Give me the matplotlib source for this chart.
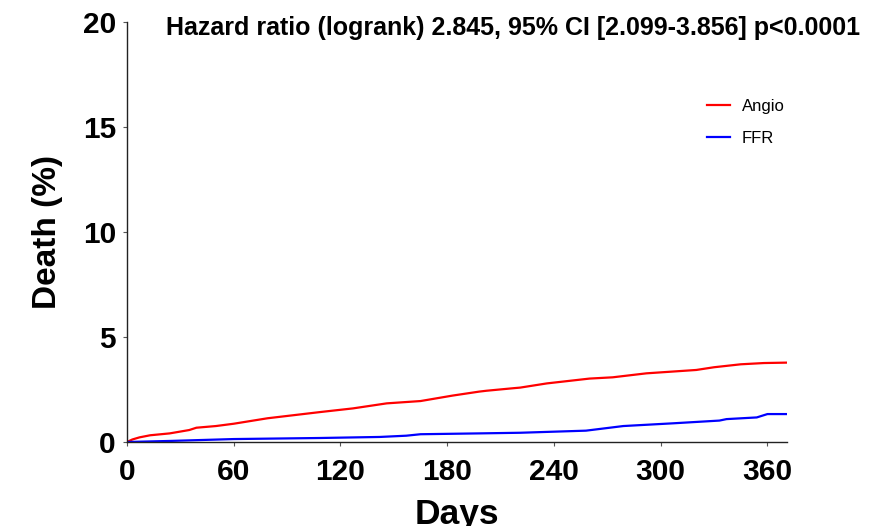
import matplotlib
matplotlib.use("Agg")
import matplotlib.pyplot as plt

angio_days = [0, 3, 7, 13, 24, 35, 39, 50, 60, 79, 90, 109, 127, 146, 165, 183, 198, 202, 217, 221, 236, 260, 273, 292, 320, 330, 345, 358, 371]
angio_vals = [0, 0.12, 0.22, 0.32, 0.41, 0.57, 0.68, 0.76, 0.87, 1.13, 1.24, 1.43, 1.60, 1.84, 1.95, 2.21, 2.40, 2.44, 2.56, 2.59, 2.79, 3.02, 3.08, 3.27, 3.43, 3.56, 3.70, 3.76, 3.78]
ffr_days = [0, 24, 60, 108, 142, 157, 165, 198, 221, 258, 279, 307, 333, 337, 354, 360, 371]
ffr_vals = [0, 0.05, 0.14, 0.19, 0.24, 0.30, 0.37, 0.41, 0.44, 0.54, 0.76, 0.89, 1.02, 1.09, 1.17, 1.33, 1.33]

x_ticks = [0, 60, 120, 180, 240, 300, 360]
y_ticks = [0, 5, 10, 15, 20]

F = "Liberation Sans"
fig = plt.figure(figsize=(8.79, 5.26), dpi=100)
ax = fig.add_axes([127/879, 1 - 442/526, (787 - 127)/879, (442 - 22)/526])
ax.plot(angio_days, angio_vals, color="#ff0000", lw=1.6, label="Angio")
ax.plot(ffr_days, ffr_vals, color="#0000ff", lw=1.6, label="FFR")
ax.set_xlim(0, 371)
ax.set_ylim(0, 20)
ax.set_xticks(x_ticks)
ax.set_yticks(y_ticks)
for s in ["top", "right"]:
    ax.spines[s].set_visible(False)
for s in ["left", "bottom"]:
    ax.spines[s].set_linewidth(1.0)
    ax.spines[s].set_color("#222222")
ax.tick_params(axis="both", direction="out", length=3, width=0.8, color="#555555")
ax.tick_params(axis="x", pad=8.5)
ax.tick_params(axis="y", pad=5)
for lab in ax.get_xticklabels() + ax.get_yticklabels():
    lab.set_fontfamily(F)
    lab.set_fontweight("bold")
    lab.set_fontsize(21.5)
ax.set_xlabel("Days", fontsize=25.5, fontweight="bold", fontfamily=F, labelpad=9)
ax.set_ylabel("Death (%)", fontsize=24, fontweight="bold", fontfamily=F, labelpad=14)
fig.text(513.5/879, 1 - 28/526, "Hazard ratio (logrank) 2.845, 95% CI [2.099-3.856] p<0.0001",
         ha="center", va="center", fontsize=18, fontweight="bold", fontfamily=F)
leg = ax.legend(loc="upper left", bbox_to_anchor=(580/660, 1 - 77/420), frameon=False,
                prop={"family": F, "size": 12}, handlelength=1.4, handletextpad=0.7,
                labelspacing=1.0, borderaxespad=0, borderpad=0)
fig.savefig("out.png", dpi=100)
